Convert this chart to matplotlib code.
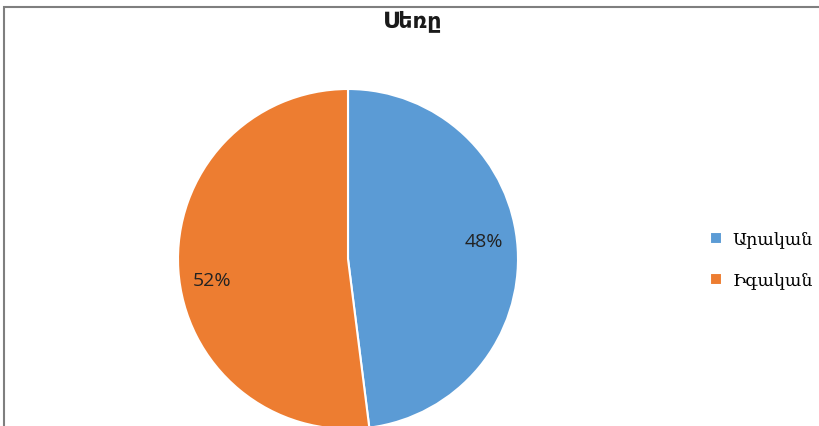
import matplotlib.pyplot as plt
from matplotlib.patches import Rectangle

# gender split
title = "Սեռը"
labels = ["Արական", "Իգական"]
shares = [48, 52]
colors = ["#5B9BD5", "#ED7D31"]

W, H = 819, 426
fig = plt.figure(figsize=(W / 100, H / 100), dpi=100)

# chart frame (only top and left edges fall inside the image)
fig.add_artist(Rectangle((4 / W, -0.1), 1.2, (H - 7) / H + 0.1, transform=fig.transFigure,
                         fill=False, edgecolor="#7f7f7f", linewidth=1.5))

# pie centred at (348, 259) px with radius 170 px
r = 170
cx, cy = 348, H - 259
ax = fig.add_axes([(cx - r) / W, (cy - r) / H, 2 * r / W, 2 * r / H])
wedges, texts, autotexts = ax.pie(
    shares, colors=colors, startangle=90, counterclock=False,
    autopct="%d%%", pctdistance=0.8,
    wedgeprops=dict(edgecolor="white", linewidth=1.5),
    textprops=dict(fontsize=14, family="Open Sans", color="#222222"))
ax.set_xlim(-1, 1)
ax.set_ylim(-1, 1)
ax.set_aspect("equal")

# nudge the percentage labels to where the chart places them
autotexts[0].set_position((autotexts[0].get_position()[0], 0.1))
autotexts[1].set_position((autotexts[1].get_position()[0], -0.13))

fig.text(413 / W, 1 - 21 / H, title, ha="center", va="center",
         fontsize=16, fontweight="bold", family="DejaVu Sans", color="#1a1a1a")

fig.legend(wedges, labels, loc="center left", bbox_to_anchor=(694 / W, 1 - 260 / H),
           frameon=False, handlelength=0.7, handleheight=0.7, handletextpad=0.6,
           labelspacing=1.35, prop=dict(family="DejaVu Serif", size=12.5))

fig.savefig("out.png", dpi=100)
